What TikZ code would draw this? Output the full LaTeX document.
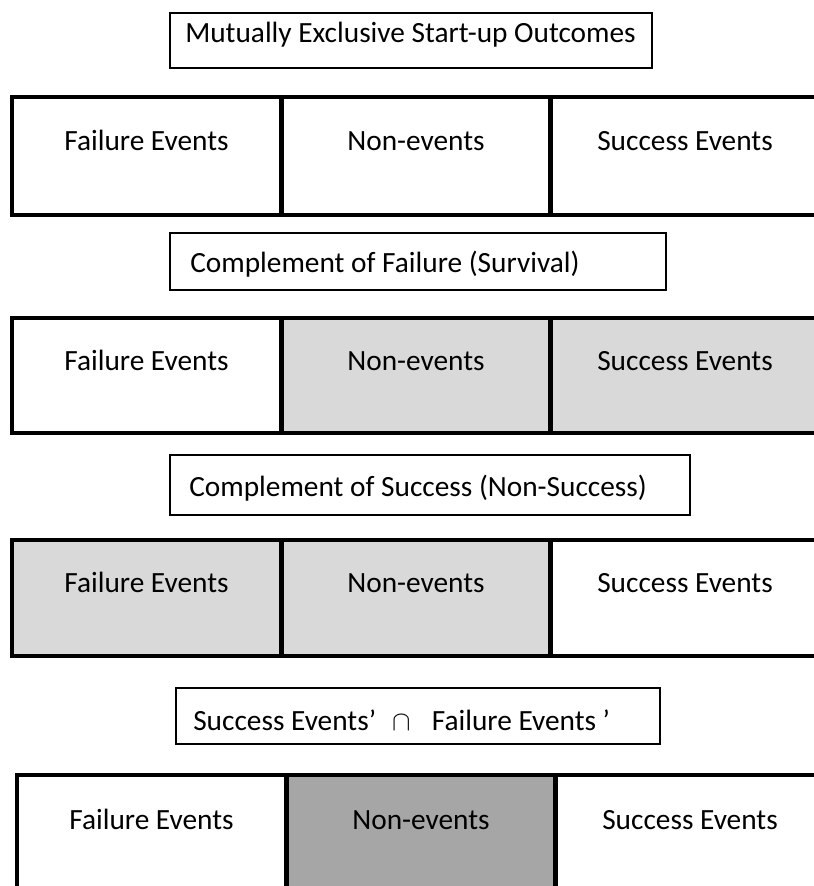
\documentclass[tikz,border=0pt]{standalone}
\usepackage{fontspec}
\setmainfont{Carlito}
\definecolor{lightgrey}{HTML}{D9D9D9}
\definecolor{darkgrey}{HTML}{A6A6A6}
\tikzset{
  cell/.style={draw, line width=3.2pt, minimum width=201.75pt, inner sep=0pt},
  capbox/.style={draw, line width=1.2pt, inner sep=0pt, anchor=north west},
  txt/.style={font=\fontsize{22}{26}\selectfont, inner sep=0pt},
}
\begin{document}
\begin{tikzpicture}[x=0.75pt, y=-0.75pt]
  \useasboundingbox (0,0) rectangle (814,886);
  \clip (0,0) rectangle (814,886);
  % all outcomes
  \node[capbox, minimum width=361.5pt, minimum height=41.25pt] (cap1) at (169,12) {};
  \node[txt, anchor=base west] (cap1-txt) at (185,42) {Mutually Exclusive Start-up Outcomes};
  \foreach \c/\x/\col/\t in {f/146.5/white/Failure Events, n/416/white/Non-events, s/685/white/Success Events} {
    \node[cell, fill=\col, minimum height=88.5pt] (r1\c) at (\x,156) {};
    \node[txt, anchor=base] (r1\c-txt) at (\x,150) {\t};
  }
  % survival
  \node[capbox, minimum width=372pt, minimum height=42.75pt] (cap2) at (169,232) {};
  \node[txt, anchor=base west] (cap2-txt) at (190,272) {Complement of Failure (Survival)};
  \foreach \c/\x/\col/\t in {f/146.5/white/Failure Events, n/416/lightgrey/Non-events, s/685/lightgrey/Success Events} {
    \node[cell, fill=\col, minimum height=86.25pt] (r2\c) at (\x,375.5) {};
    \node[txt, anchor=base] (r2\c-txt) at (\x,370) {\t};
  }
  % non-success
  \node[capbox, minimum width=390pt, minimum height=45pt] (cap3) at (169,454) {};
  \node[txt, anchor=base west] (cap3-txt) at (189,496) {Complement of Success (Non-Success)};
  \foreach \c/\x/\col/\t in {f/146.5/lightgrey/Failure Events, n/416/lightgrey/Non-events, s/685/white/Success Events} {
    \node[cell, fill=\col, minimum height=87pt] (r3\c) at (\x,598) {};
    \node[txt, anchor=base] (r3\c-txt) at (\x,592) {\t};
  }
  % intersection
  \node[capbox, minimum width=363pt, minimum height=42pt] (cap4) at (175,687) {};
  \node[txt, anchor=base west] (cap4-txt) at (193,730) {Success Events’\hspace{12pt}$\cap$\hspace{16pt}Failure Events ’};
  \foreach \c/\x/\col/\t in {f/151.5/white/Failure Events, n/421/darkgrey/Non-events, s/690/white/Success Events} {
    \node[cell, fill=\col, minimum height=87pt] (r4\c) at (\x,833) {};
    \node[txt, anchor=base] (r4\c-txt) at (\x,829) {\t};
  }
\end{tikzpicture}
\end{document}
